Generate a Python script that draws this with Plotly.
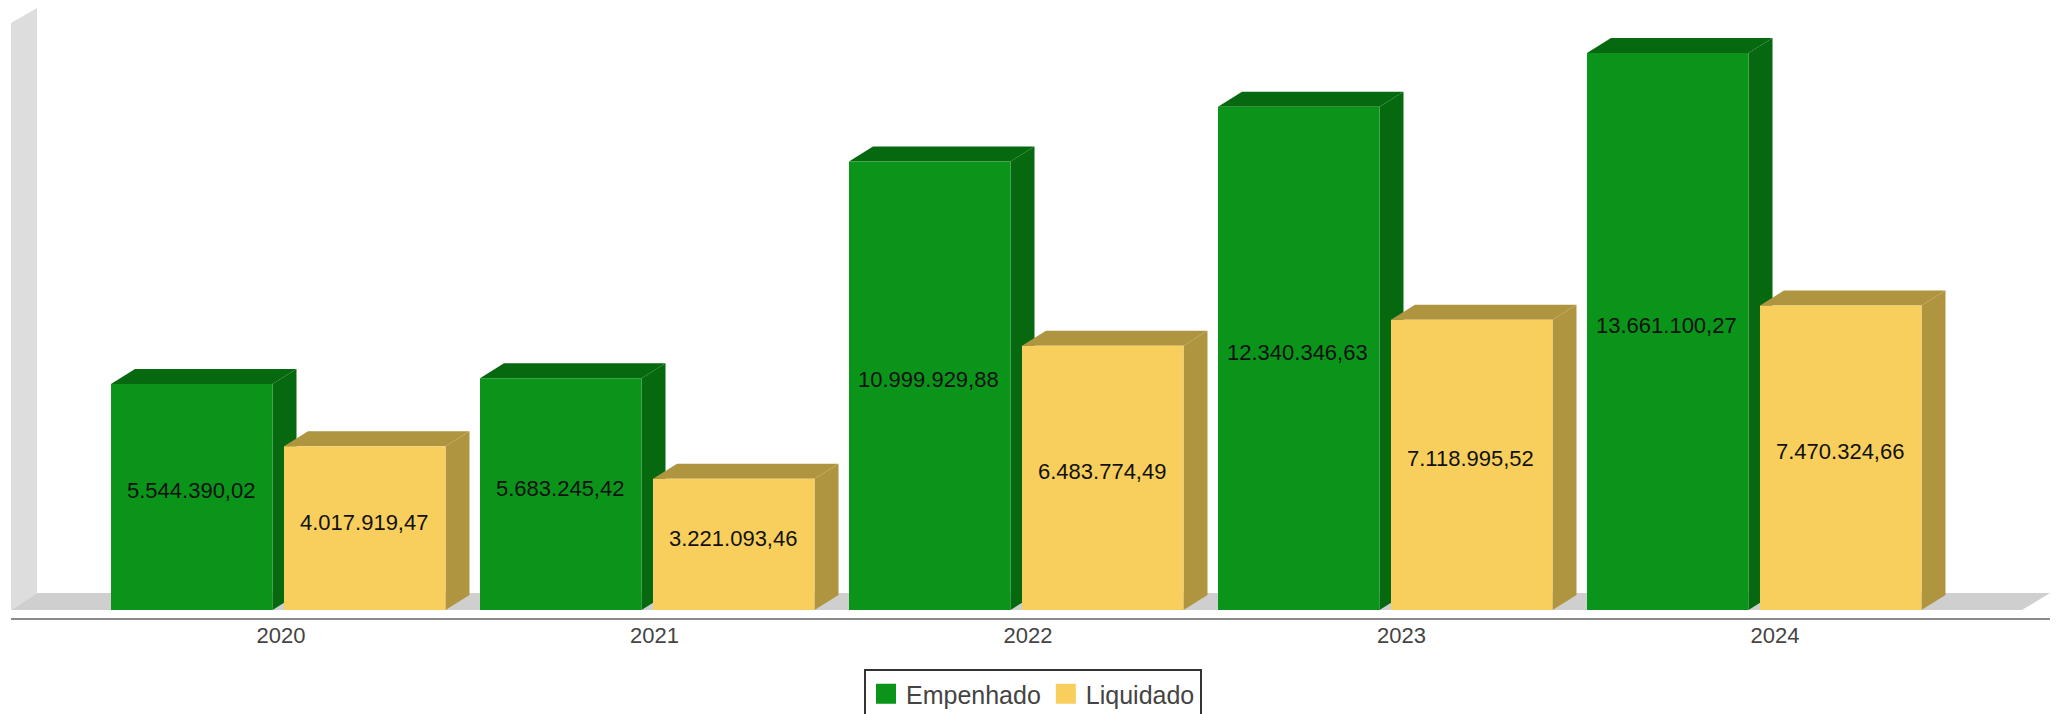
import plotly.graph_objects as go

years = ["2020", "2021", "2022", "2023", "2024"]
empenhado = [5544390.02, 5683245.42, 10999929.88, 12340346.63, 13661100.27]
liquidado = [4017919.47, 3221093.46, 6483774.49, 7118995.52, 7470324.66]


def br(v):
    return f"{v:,.2f}".replace(",", "#").replace(".", ",").replace("#", ".")


W, H = 2060, 714
BASE_PX = 610
PPU = 557 / max(empenhado)          # pixels per value unit
BAR_W, STEP, X0 = 161.5, 369, 111
GAP = 173
DX, DY = 24, 15
DYV = DY / PPU
AX_BOTTOM = 618

GREEN, GREEN_D = "#0A941A", "#07690F"
YEL, YEL_D = "#F8CF5C", "#B09540"
TXT = "#111111"

fig = go.Figure()


def val(px_y):
    return (BASE_PX - px_y) / PPU


def poly(xs, ys, color, axes=("x", "y")):
    fig.add_trace(go.Scatter(x=xs + xs[:1], y=ys + ys[:1], mode="lines", fill="toself",
                             fillcolor=color, line=dict(width=0, color=color),
                             hoverinfo="skip", showlegend=False, xaxis=axes[0], yaxis=axes[1]))


# wall and floor
poly([11, 37, 37, 11], [val(23), val(8), val(593), val(610)], "#DDDDDD")
poly([11, 37, 2050, 2022], [val(610), val(593), val(593), val(610)], "#CFCFCF")

lefts_g = [X0 + i * STEP for i in range(len(years))]
lefts_y = [x + GAP for x in lefts_g]


def box_faces(left, v, top_c, side_c):
    r = left + BAR_W
    poly([left, left + DX, r + DX, r], [v, v + DYV, v + DYV, v], top_c)
    poly([r, r + DX, r + DX, r], [v, v + DYV, DYV, 0], side_c)


for lf, v in zip(lefts_g, empenhado):
    box_faces(lf, v, GREEN_D, GREEN_D)
for lf, v in zip(lefts_y, liquidado):
    box_faces(lf, v, YEL_D, YEL_D)

# front faces on the overlay subplot, so that they sit above the depth faces
fig.add_trace(go.Bar(x=lefts_g, y=empenhado, width=BAR_W, offset=0, marker=dict(color=GREEN, line=dict(width=0)),
                     showlegend=False, xaxis="x2", yaxis="y2", name="Empenhado"))
fig.add_trace(go.Bar(x=lefts_y, y=liquidado, width=BAR_W, offset=0, marker=dict(color=YEL, line=dict(width=0)),
                     showlegend=False, xaxis="x2", yaxis="y2", name="Liquidado"))

# legend entries
for name, c in (("Empenhado", GREEN), ("Liquidado", YEL)):
    fig.add_trace(go.Scatter(x=[None], y=[None], mode="markers", name=name,
                             marker=dict(symbol="square", size=16, color=c, line=dict(width=4, color=c))))

# value labels
for lfs, vals in ((lefts_g, empenhado), (lefts_y, liquidado)):
    for lf, v in zip(lfs, vals):
        fig.add_annotation(x=lf + BAR_W / 2, y=v / 2, xref="x2", yref="y2", text=br(v), showarrow=False,
                           xshift=-1, yshift=6, font=dict(family="Liberation Sans", size=22, color=TXT))

xr = [11, 2050]
yr = [val(AX_BOTTOM), val(0)]
xdom = [11 / W, 2050 / W]
ydom = [(H - AX_BOTTOM) / H, 1]
tick_pos = [281 + 373.5 * i for i in range(len(years))]

fig.update_layout(
    width=W, height=H, margin=dict(l=0, r=0, t=0, b=0, autoexpand=False), paper_bgcolor="white", plot_bgcolor="white",
    barmode="overlay", showlegend=True,
    xaxis=dict(domain=xdom, range=xr, tickvals=tick_pos, ticktext=years, showgrid=False, zeroline=False,
               showline=True, linecolor="#8A8A8A", linewidth=2, ticks="", ticklabelstandoff=-3,
               tickfont=dict(family="Liberation Sans", size=22, color="#444444")),
    yaxis=dict(domain=ydom, range=yr, visible=False),
    xaxis2=dict(domain=xdom, range=xr, overlaying="x", visible=False),
    yaxis2=dict(domain=ydom, range=yr, overlaying="y", visible=False),
    legend=dict(x=864 / W, y=1 - 669 / H, xanchor="left", yanchor="top", orientation="h",
                bgcolor="white", bordercolor="#333333", borderwidth=2,
                font=dict(family="Liberation Sans", size=25, color="#444444"),
                itemclick=False, itemdoubleclick=False),
)

fig.write_html("out.html", config={"displayModeBar": False},
               post_script="document.body.style.margin='0';document.body.style.overflow='hidden';")
